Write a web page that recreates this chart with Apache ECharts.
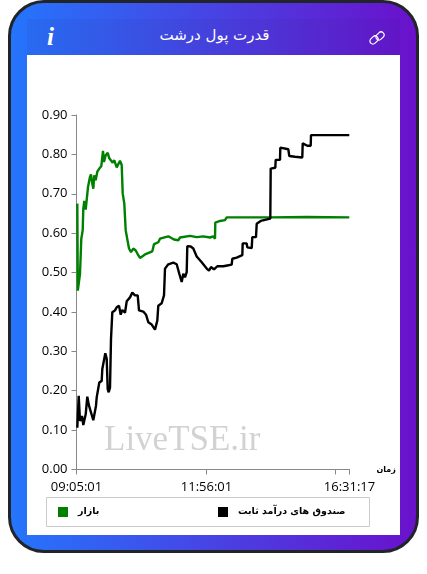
<!DOCTYPE html>
<html lang="fa">
<head>
<meta charset="utf-8">
<title>قدرت پول درشت</title>
<script src="https://cdn.jsdelivr.net/npm/echarts@6/dist/echarts.min.js"></script>
<style>
  html, body { margin: 0; padding: 0; width: 427px; height: 574px; background: #fff; overflow: hidden; }
  #card {
    position: absolute; left: 8px; top: 0; width: 411px; height: 553px; box-sizing: border-box;
    border: 3px solid #212529; border-radius: 36px;
    background: linear-gradient(90deg, #2575fc 0%, #6a11cb 100%);
  }
  #head {
    position: absolute; left: 27px; top: 19px; width: 373px; height: 36px;
    background: rgba(40, 30, 120, 0.07);
  }
  #chart { position: absolute; left: 27px; top: 55px; width: 373px; height: 480px; background: #fff; }
  #title {
    position: absolute; left: 28px; top: 24px; width: 373px; text-align: center; color: #fff;
    font: 15px "DejaVu Sans", sans-serif; direction: rtl; line-height: 22px;
  }
  #info {
    position: absolute; left: 47px; top: 24px; color: #fff;
    font: italic bold 25px/26px "Liberation Serif", serif;
  }
  #link { position: absolute; left: 368px; top: 29px; }
</style>
</head>
<body>
<div id="card"></div>
<div id="head"></div>
<div id="title">قدرت پول درشت</div>
<div id="info">i</div>
<svg id="link" width="18" height="18" viewBox="0 0 18 18" fill="none" stroke="#fff" stroke-width="1.2">
  <rect x="1.5" y="8" width="9" height="6" rx="3" transform="rotate(-45 6 11)"/>
  <rect x="7.5" y="4" width="9" height="6" rx="3" transform="rotate(-45 12 7)"/>
</svg>
<div id="chart"></div>
<script>
// Sample position along the trading session, market share and fixed-income funds share
const marketSamples = [0.8,1.3,3.5,4.8,6.2,6.8,7.8,9.2,11.5,13.5,14.5,15.5,16.8,17.8,19.2,20.8,22.8,24.8,26.5,27.5,29.2,31.2,32.8,34.5,36.2,37.8,40.2,43.5,45.2,46.2,47.8,49.2,51.2,52.5,54.5,56.8,59.2,61.8,63.5,68.5,75.8,77.5,81.8,83.5,91.8,97.5,101.8,103.5,113.5,120.2,126.8,133.5,136.8,138.5,138.8,143.5,148.5,150.2,193.5,230.2,272.8];
const marketValues = [0.675,0.454,0.497,0.586,0.607,0.662,0.682,0.660,0.717,0.743,0.749,0.730,0.713,0.747,0.734,0.756,0.764,0.770,0.809,0.781,0.798,0.804,0.790,0.794,0.779,0.785,0.767,0.784,0.773,0.701,0.675,0.607,0.603,0.561,0.552,0.561,0.556,0.544,0.537,0.546,0.554,0.572,0.577,0.586,0.592,0.584,0.582,0.589,0.593,0.590,0.592,0.589,0.592,0.586,0.627,0.631,0.633,0.640,0.640,0.641,0.640];

const fundSamples = [0.8,2.2,3.5,5.5,6.8,9.2,10.8,12.5,14.5,16.8,19.5,20.2,21.8,22.8,25.2,25.8,27.5,28.8,30.2,31.2,32.2,33.5,34.5,35.5,35.8,38.5,40.2,42.5,44.2,45.8,48.5,50.2,53.5,55.8,58.5,61.2,62.5,66.8,69.5,71.8,75.2,78.5,80.8,81.8,85.2,87.5,88.5,91.8,96.8,100.2,102.2,102.8,105.2,106.8,108.5,110.2,110.8,114.2,116.8,120.2,125.2,130.2,132.5,134.5,137.5,140.8,146.8,150.8,155.2,155.8,160.2,165.8,166.2,170.2,170.8,175.2,175.8,179.5,180.2,184.2,185.2,193.8,194.2,198.8,199.2,203.5,203.8,211.8,212.8,218.5,225.8,226.2,230.8,234.2,234.5,272.8];
const fundValues = [0.106,0.187,0.123,0.136,0.113,0.140,0.185,0.162,0.164,0.125,0.162,0.183,0.185,0.221,0.225,0.255,0.259,0.295,0.281,0.204,0.196,0.208,0.331,0.336,0.399,0.404,0.412,0.416,0.393,0.405,0.398,0.427,0.437,0.449,0.442,0.442,0.404,0.401,0.393,0.374,0.368,0.355,0.378,0.416,0.422,0.442,0.510,0.521,0.525,0.521,0.524,0.497,0.476,0.497,0.488,0.501,0.567,0.566,0.561,0.541,0.526,0.510,0.505,0.514,0.508,0.516,0.516,0.518,0.520,0.535,0.538,0.544,0.574,0.574,0.564,0.562,0.590,0.590,0.624,0.631,0.634,0.637,0.764,0.766,0.786,0.786,0.817,0.813,0.796,0.794,0.792,0.828,0.822,0.822,0.849,0.849];

const sessionEnd = 273;
const tickSamples = [0, 130, 259, 273];
const tickLabels = { 0: '09:05:01', 130: '11:56:01', 273: '16:31:17' };
const marketName = 'بازار';
const fundName = 'صندوق های درآمد ثابت';
const latinFont = '"Open Sans", "Noto Sans", sans-serif';
const persianFont = '"DejaVu Sans", sans-serif';

const zip = (xs, ys) => xs.map((x, i) => [x, ys[i]]);

// One legend per series so each key sits at its own place inside the box
const legendFor = (name, left) => ({
  left, top: 452, itemWidth: 10, itemHeight: 10, padding: 0, icon: 'rect', selectedMode: false,
  data: [name],
  textStyle: { color: '#000', fontSize: 9.5, fontWeight: 'bold', fontFamily: persianFont, padding: [0, 0, 0, 5] }
});

const chart = echarts.init(document.getElementById('chart'));
chart.setOption({
  animation: false,
  grid: { left: 49.5, right: 50.5, top: 60, bottom: 65.5, containLabel: false, outerBoundsMode: 'none' },
  xAxis: {
    type: 'value', min: 0, max: sessionEnd,
    name: 'زمان', nameGap: 27,
    nameTextStyle: { color: '#000', fontSize: 8, fontWeight: 'bold', fontFamily: persianFont, verticalAlign: 'middle', lineHeight: 10, padding: [0, 0, 3, 0] },
    axisLine: { onZero: false, lineStyle: { color: '#888', width: 1 } },
    axisTick: { length: 5, lineStyle: { color: '#888' }, customValues: tickSamples },
    splitLine: { show: false },
    axisLabel: {
      color: '#000', fontSize: 13, fontFamily: latinFont, margin: 11,
      customValues: [0, 130, 273],
      hideOverlap: false, showMinLabel: true, showMaxLabel: true,
      formatter: v => tickLabels[v] || ''
    }
  },
  yAxis: {
    type: 'value', min: 0, max: 0.9, interval: 0.1,
    axisLine: { show: true, lineStyle: { color: '#888', width: 1 } },
    axisTick: { show: true, length: 5, lineStyle: { color: '#888' } },
    splitLine: { show: false },
    axisLabel: { color: '#000', fontSize: 13, fontFamily: latinFont, margin: 9, formatter: v => v.toFixed(2) }
  },
  legend: [legendFor(marketName, 31), legendFor(fundName, 191)],
  graphic: [
    { type: 'rect', x: 19.5, y: 442.5, shape: { width: 323, height: 29 }, style: { fill: 'none', stroke: '#ccc', lineWidth: 1 }, silent: true },
    { type: 'text', x: 77, y: 368, z: 0, style: { text: 'LiveTSE.ir', fill: '#d2d2d2', font: '35px "Liberation Serif", serif' }, silent: true }
  ],
  series: [
    { name: marketName, type: 'line', data: zip(marketSamples, marketValues), showSymbol: false, smooth: false, itemStyle: { color: '#008000' }, lineStyle: { color: '#008000', width: 2.4 }, z: 3 },
    { name: fundName, type: 'line', data: zip(fundSamples, fundValues), showSymbol: false, smooth: false, itemStyle: { color: '#000' }, lineStyle: { color: '#000', width: 2.4 }, z: 4 }
  ]
});
</script>
</body>
</html>
